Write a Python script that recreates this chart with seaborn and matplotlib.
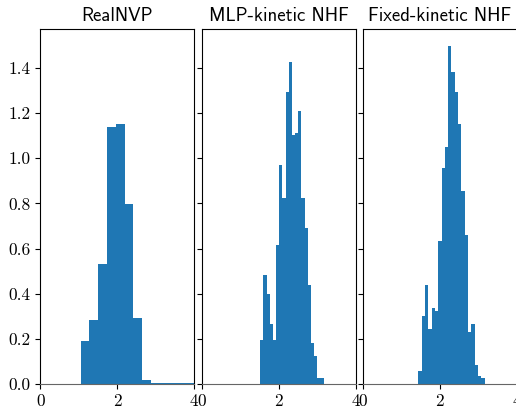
import numpy as np
import pandas as pd
import matplotlib
matplotlib.use("Agg")
import matplotlib.pyplot as plt
import seaborn as sns

plt.rcParams['axes.formatter.use_mathtext'] = True

titles = ["RealNVP", "MLP-kinetic NHF", "Fixed-kinetic NHF"]

# RealNVP histogram (density)
realnvp_start = 1.046
realnvp_width = 0.229
realnvp_heights = [0.192, 0.284, 0.532, 1.140, 1.152, 0.797, 0.292, 0.018,
                   0.004, 0.004, 0.004, 0.004, 0.004]

# MLP-kinetic NHF histogram (density)
mlp_start = 1.522
mlp_width = 0.0823
mlp_heights = [0.195, 0.483, 0.399, 0.266, 0.195, 0.616, 0.970, 0.824, 1.294, 1.427,
               1.103, 1.112, 1.210, 0.824, 0.691, 0.439, 0.182, 0.124, 0.027, 0.027]

# Fixed-kinetic NHF histogram (density)
fixed_start = 1.444
fixed_width = 0.0862
fixed_heights = [0.058, 0.301, 0.439, 0.244, 0.337, 0.323, 0.634, 0.957, 1.050, 1.498,
                 1.382, 1.294, 1.152, 0.855, 0.660, 0.230, 0.266, 0.084, 0.035, 0.027]

x_ticks = [0, 2, 4]
y_ticks = [0.0, 0.2, 0.4, 0.6, 0.8, 1.0, 1.2, 1.4]

series = [(realnvp_start, realnvp_width, realnvp_heights),
          (mlp_start, mlp_width, mlp_heights),
          (fixed_start, fixed_width, fixed_heights)]

W, H = 516, 408
fig = plt.figure(figsize=(W / 100, H / 100), dpi=100)
lefts = [40.3, 201.7, 362.7]
bottom = 24.0
aw, ah = 154.0, 355.0

axes = []
for i, (start, width, heights) in enumerate(series):
    if i == 0:
        ax = fig.add_axes([lefts[i] / W, bottom / H, aw / W, ah / H])
    else:
        ax = fig.add_axes([lefts[i] / W, bottom / H, aw / W, ah / H], sharey=axes[0])
    axes.append(ax)
    n = len(heights)
    edges = [float(start + width * k) for k in range(n + 1)]
    centers = [(edges[k] + edges[k + 1]) / 2 for k in range(n)]
    df = pd.DataFrame({"x": centers, "w": heights})
    sns.histplot(data=df, x="x", weights="w", bins=edges, stat="count",
                 color="#1f77b4", alpha=1, linewidth=0, ax=ax)
    ax.set_xlim(0, 4)
    ax.set_ylim(0, 1.573)
    ax.set_xticks(x_ticks)
    ax.set_xticklabels([str(t) for t in x_ticks], fontfamily="cmr10", fontsize=12.5)
    ax.set_yticks(y_ticks)
    if i == 0:
        ax.set_yticklabels([f"{t:.1f}" for t in y_ticks], fontfamily="cmr10", fontsize=12.5)
    else:
        ax.tick_params(axis="y", labelleft=False)
    ax.set_xlabel("")
    ax.set_ylabel("")
    ax.set_title(titles[i], fontfamily="cmss10", fontsize=13.5, pad=6)
    ax.spines["bottom"].set_color("#666666")
    ax.set_facecolor("white")

fig.savefig("out.png", dpi=100, facecolor="white")
